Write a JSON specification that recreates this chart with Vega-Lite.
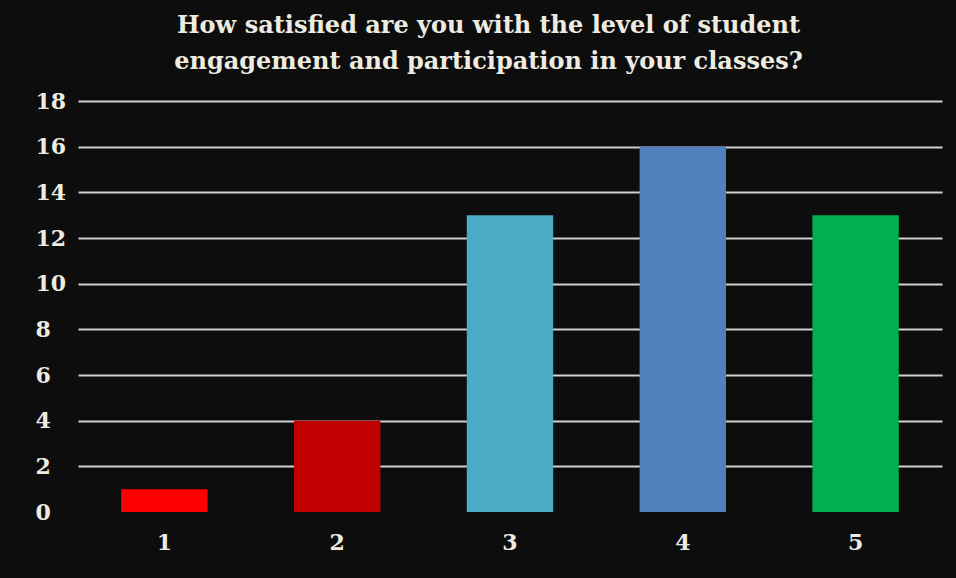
{
  "$schema": "https://vega.github.io/schema/vega-lite/v6.json",
  "width": 864,
  "height": 411,
  "autosize": {"type": "none"},
  "padding": {"left": 78, "top": 101, "right": 14, "bottom": 66},
  "background": "#0d0d0d",
  "title": {
    "text": ["How satisfied are you with the level of student", "engagement and participation in your classes?"],
    "font": "DejaVu Serif",
    "fontSize": 24,
    "fontWeight": "bold",
    "color": "#eeece1",
    "anchor": "middle",
    "frame": "bounds",
    "lineHeight": 36,
    "offset": 16
  },
  "data": {
    "values": [
      {"rating": "1", "count": 1},
      {"rating": "2", "count": 4},
      {"rating": "3", "count": 13},
      {"rating": "4", "count": 16},
      {"rating": "5", "count": 13}
    ]
  },
  "mark": {"type": "bar"},
  "encoding": {
    "x": {
      "field": "rating",
      "type": "nominal",
      "scale": {"paddingInner": 0.5, "paddingOuter": 0.25},
      "axis": {
        "title": null,
        "labelAngle": 0,
        "domain": false,
        "ticks": false,
        "labelPadding": 20,
        "labelFont": "DejaVu Serif",
        "labelFontSize": 22,
        "labelFontWeight": "bold",
        "labelColor": "#eeece1"
      }
    },
    "y": {
      "field": "count",
      "type": "quantitative",
      "scale": {"domain": [0, 18], "nice": false},
      "axis": {
        "title": null,
        "values": [0, 2, 4, 6, 8, 10, 12, 14, 16, 18],
        "domain": false,
        "ticks": false,
        "labelAlign": "left",
        "labelPadding": 43,
        "labelFont": "DejaVu Serif",
        "labelFontSize": 22,
        "labelFontWeight": "bold",
        "labelColor": "#eeece1",
        "gridColor": "#d0d0d0",
        "gridWidth": 2,
        "gridOpacity": {"condition": {"test": "datum.value === 0", "value": 0}, "value": 1}
      }
    },
    "color": {
      "field": "rating",
      "type": "nominal",
      "scale": {"domain": ["1", "2", "3", "4", "5"], "range": ["#ff0000", "#c00000", "#4bacc6", "#4f81bd", "#00b050"]},
      "legend": null
    }
  },
  "config": {"view": {"stroke": null}}
}
